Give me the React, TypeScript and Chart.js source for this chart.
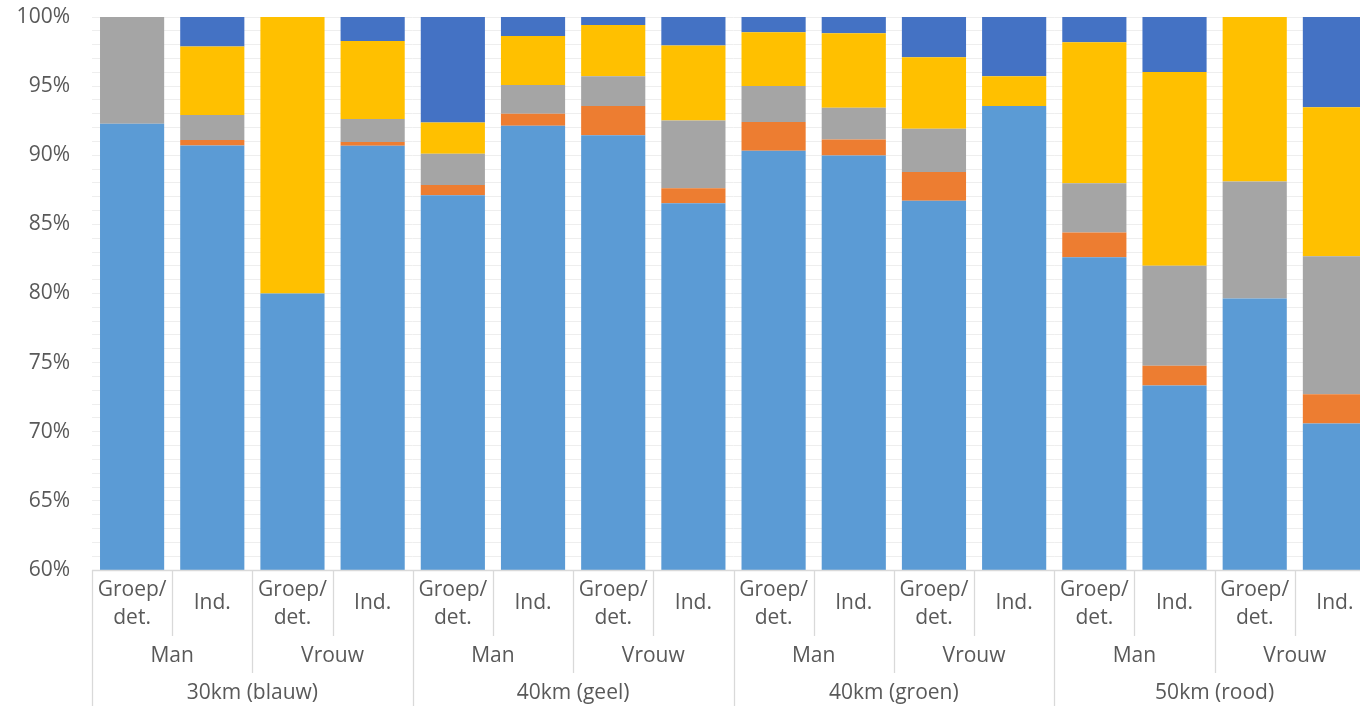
import React, { useEffect, useRef } from 'react';
import { Chart, registerables } from 'chart.js';

Chart.register(...registerables);

// ---- Data ----
const zones = ['30km (blauw)', '40km (geel)', '40km (groen)', '50km (rood)'];
const genders = ['Man', 'Vrouw'];
const types = [['Groep/', 'det.'], ['Ind.']];

const lightBlue = [92.27, 90.71, 80.0, 90.68, 87.1, 92.13, 91.45, 86.52, 90.32, 89.98, 86.71, 93.57, 82.62, 73.34, 79.63, 70.6];
const orange = [0, 0.4, 0, 0.27, 0.74, 0.87, 2.12, 1.1, 2.09, 1.16, 2.07, 0, 1.8, 1.44, 0, 2.12];
const gray = [7.73, 1.81, 0, 1.68, 2.26, 2.09, 2.15, 4.89, 2.6, 2.29, 3.13, 0, 3.56, 7.23, 8.48, 9.97];
const yellow = [0, 4.94, 20, 5.64, 2.27, 3.54, 3.7, 5.42, 3.89, 5.39, 5.18, 2.15, 10.19, 14.02, 11.89, 10.79];
const darkBlue = [0, 2.14, 0, 1.73, 7.63, 1.37, 0.58, 2.07, 1.1, 1.18, 2.91, 4.28, 1.83, 3.97, 0, 6.52];

const yMin = 60;
const yMax = 100;
const yMajorStep = 5;

const FONT = "'Open Sans', 'Noto Sans', sans-serif";
const FONT_SIZE = 21;
const TEXT_COLOR = '#595959';
const LINE_COLOR = '#d9d9d9';

type Cat = { zone: string; gender: string; type: string[] };
const categories: Cat[] = [];
zones.forEach((z) => genders.forEach((g) => types.forEach((t) => categories.push({ zone: z, gender: g, type: t }))));

const multiLevelAxis = {
  id: 'multiLevelAxis',
  afterDraw(chart: any) {
    const ctx = chart.ctx as CanvasRenderingContext2D;
    const xs = chart.scales.x;
    const area = chart.chartArea;
    const n = categories.length;
    const step = xs.getPixelForValue(1) - xs.getPixelForValue(0);
    const half = step / 2;
    const base = area.bottom;
    const bottom = chart.height;
    ctx.save();
    ctx.strokeStyle = LINE_COLOR;
    ctx.lineWidth = 1.3;
    ctx.beginPath();
    ctx.moveTo(area.left, base + 0.5);
    ctx.lineTo(xs.getPixelForValue(n - 1) + half, base + 0.5);
    ctx.stroke();
    for (let i = 0; i <= n; i++) {
      const x = Math.round((i < n ? xs.getPixelForValue(i) : xs.getPixelForValue(n - 1) + step) - half) + 0.5;
      let y2 = base + 66;
      if (i % 4 === 0) y2 = bottom;
      else if (i % 2 === 0) y2 = base + 103;
      ctx.beginPath();
      ctx.moveTo(x, base);
      ctx.lineTo(x, y2);
      ctx.stroke();
    }
    ctx.fillStyle = TEXT_COLOR;
    ctx.font = `${FONT_SIZE}px ${FONT}`;
    ctx.textAlign = 'center';
    ctx.textBaseline = 'middle';
    categories.forEach((c, i) => {
      const x = xs.getPixelForValue(i);
      if (c.type.length === 2) {
        ctx.fillText(c.type[0], x, base + 20);
        ctx.fillText(c.type[1], x, base + 48);
      } else {
        ctx.fillText(c.type[0], x, base + 33);
      }
    });
    for (let i = 0; i < n; i += 2) {
      const x = (xs.getPixelForValue(i) + xs.getPixelForValue(i + 1)) / 2;
      ctx.fillText(categories[i].gender, x, base + 86);
    }
    for (let i = 0; i < n; i += 4) {
      const x = (xs.getPixelForValue(i) + xs.getPixelForValue(i + 3)) / 2;
      ctx.fillText(categories[i].zone, x, base + 123);
    }
    ctx.restore();
  },
};

export default function App() {
  const ref = useRef<HTMLCanvasElement | null>(null);
  useEffect(() => {
    document.documentElement.style.overflow = 'hidden';
    document.body.style.overflow = 'hidden';
    const canvas = ref.current;
    if (!canvas) return;
    const mk = (label: string, data: number[], color: string) => ({
      label,
      data,
      backgroundColor: color,
      borderWidth: 0,
      barPercentage: 0.8,
      categoryPercentage: 1,
    });
    const chart = new Chart(canvas, {
      type: 'bar',
      data: {
        labels: categories.map((c) => `${c.zone} ${c.gender} ${c.type.join(' ')}`),
        datasets: [
          mk('Serie 1', lightBlue, '#5B9BD5'),
          mk('Serie 2', orange, '#ED7D31'),
          mk('Serie 3', gray, '#A5A5A5'),
          mk('Serie 4', yellow, '#FFC000'),
          mk('Serie 5', darkBlue, '#4472C4'),
        ],
      },
      options: {
        animation: false,
        responsive: false,
        devicePixelRatio: 1,
        layout: { padding: { top: 17, bottom: 136, left: 0, right: 5 } },
        plugins: { legend: { display: false }, tooltip: { enabled: false } },
        scales: {
          x: { stacked: true, display: false },
          y: {
            stacked: true,
            min: yMin,
            max: yMax,
            border: { display: false },
            grid: { color: '#eeeeee', drawTicks: false, lineWidth: 1 },
            ticks: {
              stepSize: 1,
              autoSkip: false,
              padding: 22,
              color: TEXT_COLOR,
              font: { family: FONT, size: FONT_SIZE },
              callback: (v: any) => (Number(v) % yMajorStep === 0 ? `${v}%` : ''),
            },
            afterFit: (s: any) => {
              s.width = 92;
              s.paddingTop = 0;
              s.paddingBottom = 0;
            },
          },
        },
      },
      plugins: [multiLevelAxis],
    } as any);
    return () => chart.destroy();
  }, []);
  return (
    <div style={{ position: 'fixed', left: 0, top: 0, width: 1380, height: 706, background: '#fff' }}>
      <canvas ref={ref} width={1380} height={706} style={{ display: 'block' }} />
    </div>
  );
}
